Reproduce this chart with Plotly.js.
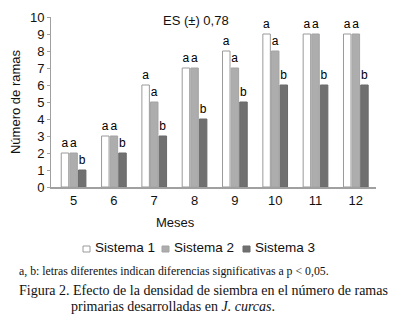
<!DOCTYPE html>
<html>
<head>
<meta charset="utf-8">
<script src="https://cdn.plot.ly/plotly-3.0.1.min.js"></script>
<style>html,body{margin:0;padding:0;background:#fff;}#chart{width:396px;height:315px;}</style>
</head>
<body>
<div id="chart"></div>
<script>
const meses = ['5', '6', '7', '8', '9', '10', '11', '12'];
const sistema1 = [2, 3, 6, 7, 8, 9, 9, 9];
const sistema2 = [2, 3, 5, 7, 7, 8, 9, 9];
const sistema3 = [1, 2, 3, 4, 5, 6, 6, 6];
const letras1 = ['a', 'a', 'a', 'a', 'a', 'a', 'a', 'a'];
const letras2 = ['a', 'a', 'a', 'a', 'a', 'a', 'a', 'a'];
const letras3 = ['b', 'b', 'b', 'b', 'b', 'b', 'b', 'b'];
const seriesNames = ['Sistema 1', 'Sistema 2', 'Sistema 3'];
const fills = ['#ffffff', '#adadad', '#707070'];
const outlines = ['#9a9a9a', '#a3a3a3', '#6a6a6a'];

const sansFont = 'Liberation Sans, Arial, sans-serif';
const serifFont = 'Liberation Serif, Times New Roman, serif';

function barTrace(i, y, letters) {
  return {
    type: 'bar', name: seriesNames[i], x: meses, y: y,
    text: letters, textposition: 'outside', cliponaxis: false,
    textfont: {family: sansFont, size: 12, color: '#000'},
    outsidetextfont: {family: sansFont, size: 12, color: '#000'},
    marker: {color: fills[i], line: {color: outlines[i], width: 1}},
    hoverinfo: 'skip', showlegend: false
  };
}

const data = [
  barTrace(0, sistema1, letras1),
  barTrace(1, sistema2, letras2),
  barTrace(2, sistema3, letras3)
];

// plot area: left 51, width 325; top 17, height 170
const px = X => (X - 51) / 325;
const py = Y => (187 - Y) / 170;

function ann(text, X, Y, anchor, font) {
  return {text: text, xref: 'paper', yref: 'paper', x: px(X), y: py(Y),
          xanchor: anchor, yanchor: 'middle', showarrow: false, font: font};
}

const sans13 = {family: sansFont, size: 13, color: '#111'};
const sansLeg = {family: sansFont, size: 13.5, color: '#111'};
const serif1 = {family: serifFont, size: 11.8, color: '#111'};
const serif2 = {family: serifFont, size: 14, color: '#111'};

// legend (drawn manually to match the compact original)
const legendBoxX = [83, 162, 243];
const legendTextX = [93, 172, 253];
const legendShapes = seriesNames.map((n, i) => ({
  type: 'rect', xref: 'paper', yref: 'paper',
  x0: px(legendBoxX[i]), x1: px(legendBoxX[i] + 7),
  y0: py(252), y1: py(246),
  fillcolor: fills[i], line: {color: outlines[i], width: 1}
}));
const legendAnns = seriesNames.map((n, i) => ann(n, legendTextX[i], 247, 'left', sansLeg));

const layout = {
  width: 396, height: 315,
  margin: {l: 51, r: 20, t: 17, b: 128, pad: 0},
  paper_bgcolor: '#fff', plot_bgcolor: '#fff',
  barmode: 'group', bargap: 0.36, bargroupgap: 0.13,
  showlegend: false,
  xaxis: {
    type: 'category', range: [-0.56, 7.5], showgrid: false, zeroline: false,
    showline: true, linecolor: '#a0a0a0', linewidth: 2,
    ticks: '', tickfont: sans13, fixedrange: true
  },
  yaxis: {
    range: [0, 10], dtick: 1, showgrid: false, zeroline: false,
    showline: true, linecolor: '#a0a0a0', linewidth: 1,
    ticks: 'outside', ticklen: 3, tickcolor: '#a0a0a0',
    tickfont: sans13,
    title: {text: 'Número de ramas', font: sans13, standoff: 6},
    fixedrange: true
  },
  font: {family: sansFont, color: '#111'},
  shapes: legendShapes,
  annotations: [
    ann('ES (±) 0,78', 196, 20, 'center', sans13),
    ann('Meses', 175, 223, 'center', sans13),
    ...legendAnns,
    ann('a, b: letras diferentes indican diferencias significativas a p < 0,05.', 17, 271, 'left', serif1),
    ann('Figura 2. Efecto de la densidad de siembra en el número de ramas', 17, 290, 'left', serif2),
    ann('primarias desarrolladas en <i>J. curcas</i>.', 69, 306, 'left', serif2)
  ]
};

Plotly.newPlot('chart', data, layout, {displayModeBar: false, staticPlot: true});
</script>
</body>
</html>
